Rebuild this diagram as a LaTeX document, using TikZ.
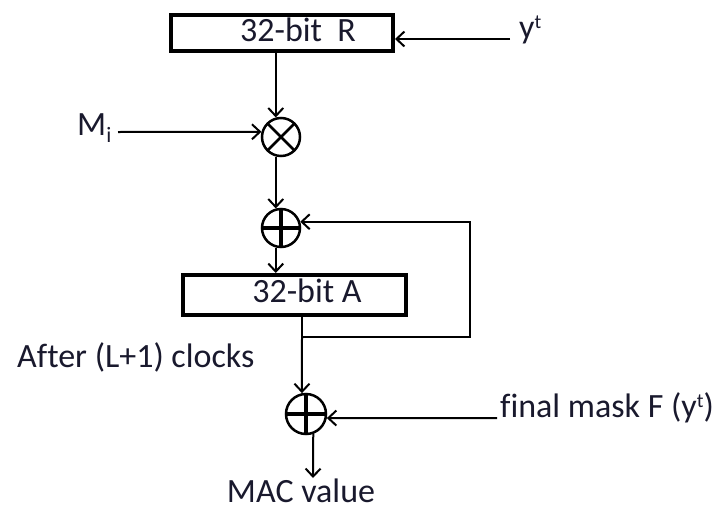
\documentclass[tikz,border=0pt]{standalone}
\usepackage{fontspec}
\setmainfont[Ligatures=NoCommon]{Carlito}
\usetikzlibrary{arrows.meta}
\definecolor{txt}{RGB}{25,25,45}
\newcommand\mysup[1]{\raisebox{10pt}{\fontsize{20}{20}\selectfont #1}}
\newcommand\mysub[1]{\raisebox{-7pt}{\fontsize{22}{22}\selectfont #1}}
\begin{document}
\begin{tikzpicture}[x=1pt,y=-1pt,
  lbl/.style={font=\fontsize{34}{40}\selectfont, text=txt, inner sep=0pt},
  reg/.style={draw, line width=4pt, inner sep=0pt},
  arr/.style={line width=2pt, -{Straight Barb[length=8pt,width=15pt]}},
  wire/.style={line width=2pt},
  otimesnode/.style={circle, draw, line width=2.5pt, minimum size=38pt, inner sep=0pt,
    path picture={\draw[line width=2.5pt] (path picture bounding box.north east) -- (path picture bounding box.south west)
      (path picture bounding box.north west) -- (path picture bounding box.south east);}},
  oplusnode/.style={circle, draw, line width=2.5pt, minimum size=38pt, inner sep=0pt,
    path picture={\draw[line width=4pt] (path picture bounding box.north) -- (path picture bounding box.south)
      (path picture bounding box.west) -- (path picture bounding box.east);}}
]
\useasboundingbox (0,0) rectangle (721,512);

% registers
\node[reg, minimum width=222pt, minimum height=36pt] (R) at (282,33) {};
\node[lbl, anchor=base] (Rt) at (298,41) {32-bit\ \ R};
\node[reg, minimum width=223pt, minimum height=40pt] (A) at (294.5,295) {};
\node[lbl, anchor=base] (At) at (307,302) {32-bit A};

% operators
\node[otimesnode] (ot) at (281,137) {};
\node[oplusnode] (op1) at (281,228) {};
\node[oplusnode, minimum size=40pt] (op2) at (306,414) {};

% labels
\node[lbl, anchor=base west] (yt) at (519,38) {y\mysup{t}};
\node[lbl, anchor=base west] (mi) at (77,135) {M\mysub{i}};
\node[lbl, anchor=base west] (after) at (17,367) {After (L+1) clocks};
\node[lbl, anchor=base west] (fmask) at (500,417) {final mask F (y\mysup{t})};
\node[lbl, anchor=base] (mac) at (301,502) {MAC value};

% free ends
\coordinate (ytend) at (510,39);
\coordinate (miend) at (118,132);
\coordinate (fmend) at (497,418);
\coordinate (macend) at (313,478);
\coordinate (fb) at (302,337);
\coordinate (fbc) at (470,337);

% connectors
\draw[arr] (ytend) -- (R.east |- ytend);
\draw[arr] (R.south -| ot.105) -- (ot.105);
\draw[arr] (miend) -- (ot.165);
\draw[arr] (ot.255) -- (op1.105);
\draw[arr] (op1.255) -- (A.north -| op1.255);
\draw[arr] (A.south -| fb) -- (fb) -- (fbc) |- (op1.18);
\draw[arr] (fb) -- (op2.101);
\draw[arr] (fmend) -- (op2.-11);
\draw[arr] (op2.-70) -- (macend);
\end{tikzpicture}
\end{document}
